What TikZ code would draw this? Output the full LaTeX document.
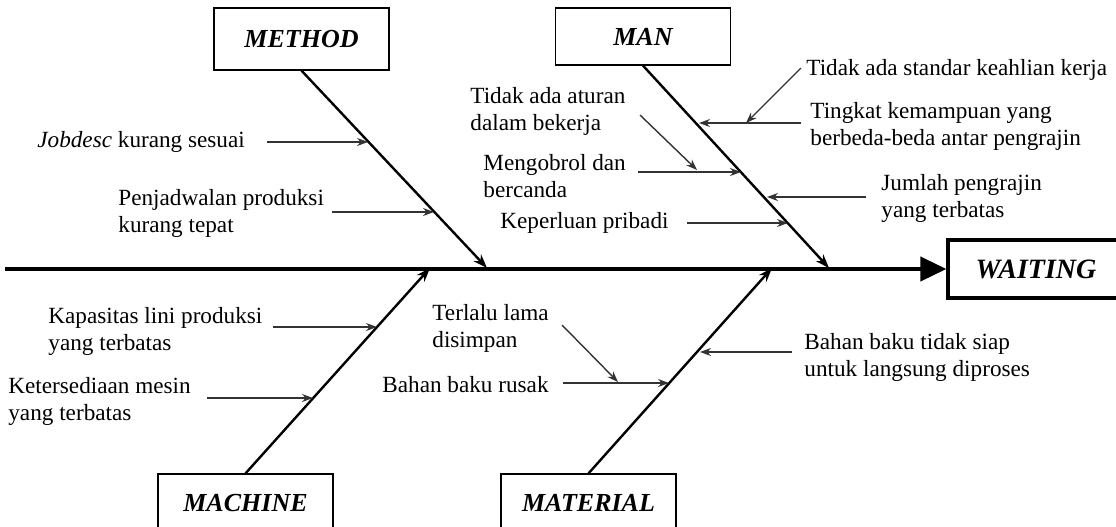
\documentclass[tikz,border=0pt]{standalone}
\usepackage{fontspec}
\setmainfont{Liberation Serif}
\usetikzlibrary{arrows.meta}

\tikzset{
  cat/.style={draw,line width=0.6pt,minimum width=87.5pt,inner sep=0pt,
    font=\fontsize{13}{15}\selectfont\bfseries\itshape},
  cause/.style={anchor=west,align=left,inner sep=0pt,
    font=\fontsize{11.6}{13.5}\selectfont},
  bone/.style={line width=1.2pt,-{Stealth[length=7pt,width=5pt]}},
  twig/.style={line width=0.7pt,black!80,-{Stealth[length=5.5pt,width=4pt]}},
}

\begin{document}
\begin{tikzpicture}[x=0.5pt,y=-0.5pt]
  \useasboundingbox (0,0) rectangle (1116,526);
  % 主軸
  \node[cat,line width=1.6pt,minimum width=88pt,minimum height=29pt,
    font=\fontsize{14}{16}\selectfont\bfseries\itshape] (waiting) at (1036,269) {WAITING};
  \coordinate (tail) at (5,269);
  \draw[line width=2pt,-{Triangle[length=13pt,width=12pt]}] (tail) -- (waiting.west);
  % 要因の枠
  \node[cat,minimum height=31pt] (method) at (301.5,39) {METHOD};
  \node[cat,minimum height=28.5pt] (man) at (643,36.5) {MAN};
  \node[cat,minimum height=29pt] (machine) at (245.5,503) {MACHINE};
  \node[cat,minimum height=29pt] (material) at (588.5,503) {MATERIAL};
  % 大骨
  \coordinate (pMethod) at (487,268);
  \coordinate (pMan) at (829,268);
  \coordinate (pMachine) at (430,268);
  \coordinate (pMaterial) at (772,268);
  \draw[bone] (method.south) -- (pMethod);
  \draw[bone] (man.south) -- (pMan);
  \draw[bone] (machine.north) -- (pMachine);
  \draw[bone] (material.north) -- (pMaterial);
  % METHOD
  \node[cause] (jobdesc) at (37,142) {\textit{Jobdesc} kurang sesuai};
  \node[cause] (jadwal) at (118,213) {Penjadwalan produksi\\kurang tepat};
  \coordinate (a1) at (267,142); \coordinate (b1) at (368,142);
  \coordinate (a2) at (332,212); \coordinate (b2) at (434,212);
  \draw[twig] (a1) -- (b1);
  \draw[twig] (a2) -- (b2);
  % MAN
  \node[cause] (aturan) at (470,111) {Tidak ada aturan\\dalam bekerja};
  \node[cause] (ngobrol) at (483,176) {Mengobrol dan\\bercanda};
  \node[cause] (pribadi) at (500,223) {Keperluan pribadi};
  \node[cause] (standar) at (806,70) {Tidak ada standar keahlian kerja};
  \node[cause] (tingkat) at (810,126) {Tingkat kemampuan yang\\berbeda-beda antar pengrajin};
  \node[cause] (jumlah) at (881,198) {Jumlah pengrajin\\yang terbatas};
  \coordinate (a3) at (640,115); \coordinate (b3) at (697,170);
  \coordinate (a4) at (638,172); \coordinate (b4) at (741,172);
  \coordinate (a5) at (687,223); \coordinate (b5) at (788,223);
  \coordinate (a6) at (801,68);  \coordinate (b6) at (746,123);
  \coordinate (a7) at (801,123); \coordinate (b7) at (699,123);
  \coordinate (a8) at (866,197); \coordinate (b8) at (767,197);
  \draw[twig] (a3) -- (b3);
  \draw[twig] (a4) -- (b4);
  \draw[twig] (a5) -- (b5);
  \draw[twig] (a6) -- (b6);
  \draw[twig] (a7) -- (b7);
  \draw[twig] (a8) -- (b8);
  % MACHINE
  \node[cause] (kapasitas) at (48,331) {Kapasitas lini produksi\\yang terbatas};
  \node[cause] (mesin) at (8,401) {Ketersediaan mesin\\yang terbatas};
  \coordinate (a9) at (273,327);  \coordinate (b9) at (377,327);
  \coordinate (a10) at (207,398); \coordinate (b10) at (313,398);
  \draw[twig] (a9) -- (b9);
  \draw[twig] (a10) -- (b10);
  % MATERIAL
  \node[cause] (lama) at (432,328) {Terlalu lama\\disimpan};
  \node[cause] (rusak) at (382,385) {Bahan baku rusak};
  \node[cause] (siap) at (804,357) {Bahan baku tidak siap\\untuk langsung diproses};
  \coordinate (a11) at (562,325); \coordinate (b11) at (618,382);
  \coordinate (a12) at (563,383); \coordinate (b12) at (669,383);
  \coordinate (a13) at (792,352); \coordinate (b13) at (700,352);
  \draw[twig] (a11) -- (b11);
  \draw[twig] (a12) -- (b12);
  \draw[twig] (a13) -- (b13);
\end{tikzpicture}
\end{document}
